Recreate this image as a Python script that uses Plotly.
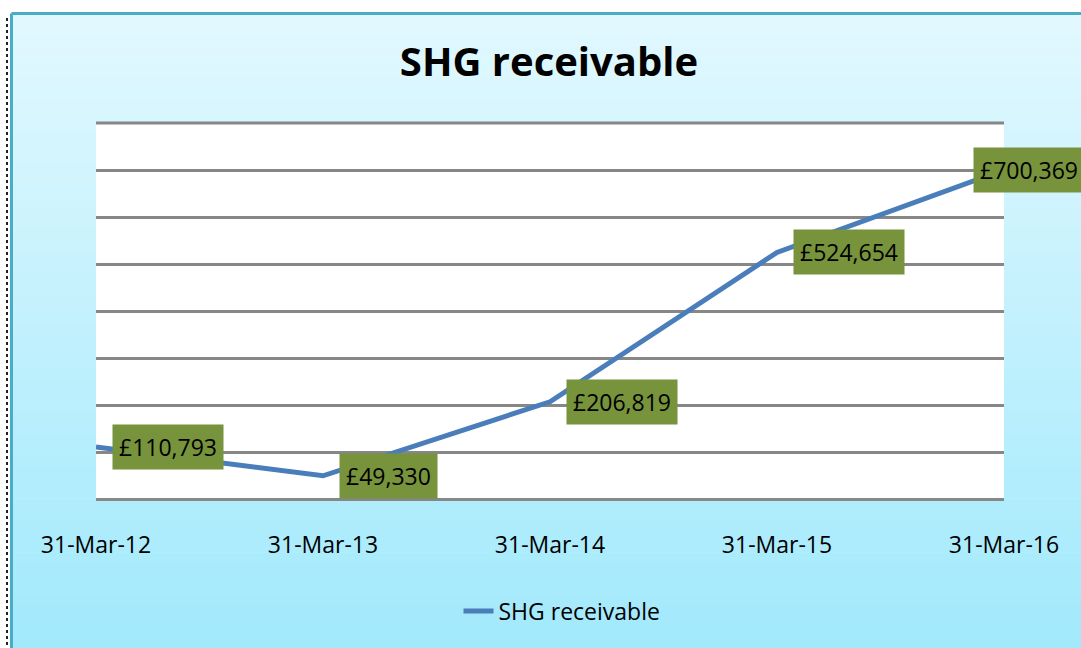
import plotly.graph_objects as go

# ---- data ----
dates = ["31-Mar-12", "31-Mar-13", "31-Mar-14", "31-Mar-15", "31-Mar-16"]
values = [110793, 49330, 206819, 524654, 700369]
labels = ["£110,793", "£49,330", "£206,819", "£524,654", "£700,369"]
grid_vals = [0, 100000, 200000, 300000, 400000, 500000, 600000, 700000, 800000]
series_name = "SHG receivable"
title_text = "SHG receivable"

# ---- layout geometry (pixels) ----
W, H = 1081, 648
PL, PR, PT, PB = 96, 1004, 123, 499
pw, ph = PR - PL, PB - PT


def px(x):
    return (x - PL) / pw


def py(y):
    return (PB - y) / ph


FONT = "Open Sans"
GRID = "#878787"
label_xshift = [16, 16, 16, 16, -31]

fig = go.Figure()
fig.add_trace(go.Scatter(
    x=dates, y=values, mode="lines", name=series_name,
    line=dict(color="#4A7EBB", width=5),
))

shapes = []
# gradient chart-area background
top = (0xE2, 0xF8, 0xFE)
bot = (0xA0, 0xE9, 0xFC)
y0, y1 = 13, 660
N = 60
for i in range(N):
    a = y0 + (y1 - y0) * i / N
    b = y0 + (y1 - y0) * (i + 1) / N
    t = (i + 0.5) / N
    c = tuple(round(top[k] + (bot[k] - top[k]) * t) for k in range(3))
    shapes.append(dict(type="rect", xref="paper", yref="paper", layer="below",
                       x0=px(11), x1=px(1100), y0=py(b + 0.5), y1=py(a),
                       fillcolor="rgb(%d,%d,%d)" % c, line=dict(width=0)))
# white plot area
shapes.append(dict(type="rect", xref="paper", yref="paper", layer="below",
                   x0=0, x1=1, y0=0, y1=1, fillcolor="white", line=dict(width=0)))
# top edge of plot area drawn like a gridline
shapes.append(dict(type="line", xref="paper", yref="paper", layer="below",
                   x0=0, x1=1, y0=1, y1=1, line=dict(color=GRID, width=3)))
# teal border (top and left)
shapes.append(dict(type="line", xref="paper", yref="paper", layer="above",
                   x0=px(11.5), x1=px(1100), y0=py(13.5), y1=py(13.5),
                   line=dict(color="#4BACC6", width=3)))
shapes.append(dict(type="line", xref="paper", yref="paper", layer="above",
                   x0=px(11.5), x1=px(11.5), y0=py(13.5), y1=py(660),
                   line=dict(color="#4BACC6", width=3)))
# dotted left edge
shapes.append(dict(type="line", xref="paper", yref="paper", layer="above",
                   x0=px(7), x1=px(7), y0=py(18), y1=py(660),
                   line=dict(color="#222222", width=2, dash="dot")))

annotations = []
for d, v, lab, xs in zip(dates, values, labels, label_xshift):
    annotations.append(dict(
        x=d, y=v, xref="x", yref="y", text=lab, showarrow=False,
        xanchor="left", yanchor="middle", xshift=xs,
        bgcolor="#77933C", borderpad=6,
        font=dict(family=FONT, size=23, color="#000000"),
    ))

fig.update_layout(
    width=W, height=H,
    margin=dict(l=PL, r=W - PR, t=PT, b=H - PB, pad=0),
    paper_bgcolor="white", plot_bgcolor="white",
    shapes=shapes, annotations=annotations,
    title=dict(text="<b>%s</b>" % title_text, x=549 / W, xanchor="center",
               y=1 - 62 / H, yanchor="middle", xref="container", yref="container",
               font=dict(family=FONT, size=40, color="#000000")),
    showlegend=True,
    legend=dict(orientation="h", x=px(562), xanchor="center", y=py(611), yanchor="middle",
                bgcolor="rgba(0,0,0,0)", font=dict(family=FONT, size=23, color="#000000")),
    font=dict(family=FONT),
)
fig.update_xaxes(type="category", range=[0, len(dates) - 1], showgrid=False, zeroline=False,
                 showline=False, ticks="outside", ticklen=25, tickcolor="rgba(0,0,0,0)",
                 tickfont=dict(family=FONT, size=23, color="#000000"))
fig.update_yaxes(range=[grid_vals[0], grid_vals[-1]], tickvals=grid_vals,
                 showticklabels=False, showgrid=True,
                 gridcolor=GRID, gridwidth=3, zeroline=True, zerolinecolor=GRID,
                 zerolinewidth=3, showline=False)

fig.write_html("out.html", config={"displayModeBar": False},
               post_script="document.body.style.margin='0';document.body.style.overflow='hidden';")
